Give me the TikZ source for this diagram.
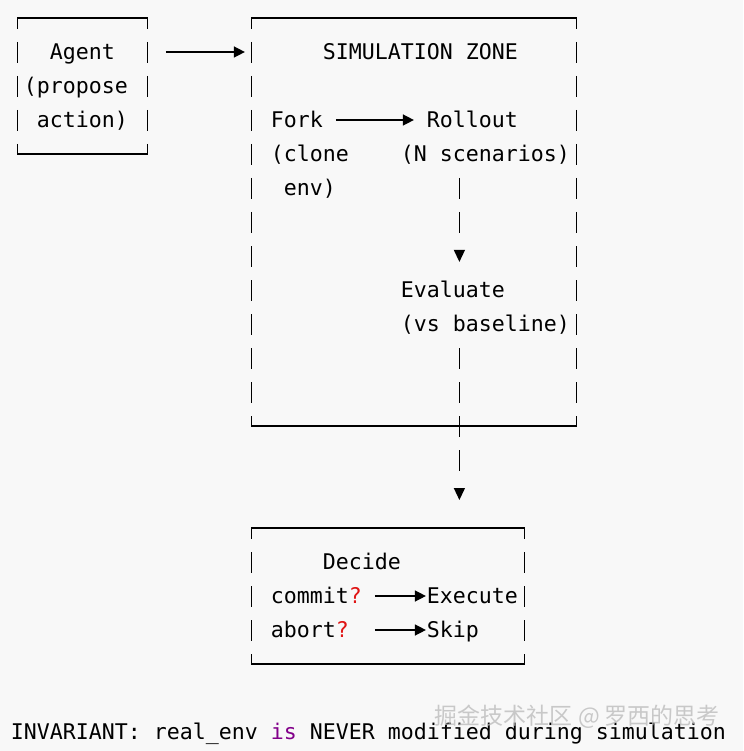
\documentclass[tikz,border=0pt]{standalone}
\usepackage{fontspec}
\setmonofont{DejaVu Sans Mono}
\newfontfamily\cjk{Noto Sans CJK SC}
\usetikzlibrary{arrows.meta}
\definecolor{qred}{HTML}{E01515}
\definecolor{kwpurple}{HTML}{82008A}
\definecolor{paper}{HTML}{F8F8F8}
\begin{document}
\begin{tikzpicture}[x=13pt,y=-34pt,line join=round,
	txt/.style={font=\ttfamily\fontsize{21.59pt}{34pt}\selectfont,inner sep=0pt,outer sep=0pt,anchor=west,text height=20pt,text depth=4.2pt},
	box/.style={inner sep=0pt,outer sep=0pt,draw=none},
	rule/.style={line width=1.3pt,line cap=rect},
	bar/.style={line width=1.3pt,dash pattern=on 21pt off 13pt,dash phase=10pt},
	arr/.style={line width=1.4pt,-{Triangle[width=11pt,length=11pt]}},
	drop/.style={line width=1.3pt,-{Triangle[width=11pt,length=12pt]}}]
	\useasboundingbox (-17.4pt,18pt) rectangle (725.6pt,-733pt);
	\fill[paper] (-17.4pt,18pt) rectangle (725.6pt,-733pt);
	\node[box,minimum width=130pt,minimum height=136pt] (agentbox) at (5,2) {};
	\node[box,minimum width=325pt,minimum height=408pt] (zonebox) at (30.5,6) {};
	\node[box,minimum width=273pt,minimum height=136pt] (decidebox) at (28.5,17) {};
	\foreach \b in {agentbox,zonebox,decidebox}{
		\draw[rule] (\b.north west) -- (\b.north east);
		\draw[rule] (\b.south west) -- (\b.south east);
		\draw[bar] (\b.north west) -- (\b.south west);
		\draw[bar] (\b.north east) -- (\b.south east);
	}
	\coordinate (spine) at (34,0);
	\node[txt] (agent) at (2.5,1) {Agent};
	\node[txt] (propose) at (0.5,2) {(propose};
	\node[txt] (action) at (1.5,3) {action)};
	\node[txt] (zone) at (23.5,1) {SIMULATION ZONE};
	\node[txt] (fork) at (19.5,3) {Fork};
	\node[txt] (clone) at (19.5,4) {(clone};
	\node[txt] (env) at (20.5,5) {env)};
	\node[txt] (rollout) at (31.5,3) {Rollout};
	\node[txt] (scen) at (29.5,4) {(N scenarios)};
	\node[txt] (evaluate) at (29.5,8) {Evaluate};
	\node[txt] (baseline) at (29.5,9) {(vs baseline)};
	\node[txt] (decide) at (23.5,16) {Decide};
	\node[txt] (commit) at (19.5,17) {commit\textcolor{qred}{?}};
	\node[txt] (execute) at (31.5,17) {Execute};
	\node[txt] (abort) at (19.5,18) {abort\textcolor{qred}{?}};
	\node[txt] (skip) at (31.5,18) {Skip};
	\node[txt] (invariant) at (-0.5,21) {INVARIANT: real\_env \textcolor{kwpurple}{is} NEVER modified during simulation};
	\draw[arr,shorten <=18.5pt,shorten >=6.5pt] (agentbox.east |- agent) -- (zonebox.west |- agent);
	\draw[arr,shorten <=13pt,shorten >=13pt] (fork.east) -- (rollout.west);
	\draw[drop,dash pattern=on 21pt off 13pt on 21pt off 60pt,shorten <=11.9pt,shorten >=16pt] (scen.south -| spine) -- (evaluate.north -| spine);
	\draw[drop,dash pattern=on 21pt off 13pt on 21pt off 13pt on 21pt off 13pt on 21pt off 60pt,shorten <=11.9pt,shorten >=28pt] (baseline.south -| spine) -- (decidebox.north -| spine);
	\draw[arr,shorten <=13pt,shorten >=1pt] (commit.east) -- (execute.west);
	\draw[arr,shorten <=26pt,shorten >=1pt] (abort.east) -- (skip.west);
	\node[font=\cjk\fontsize{23pt}{23pt}\selectfont,text=gray!55,opacity=.75,inner sep=0pt,anchor=west] (mark) at (32.1,20.56) {掘金技术社区 @ 罗西的思考};
\end{tikzpicture}
\end{document}
